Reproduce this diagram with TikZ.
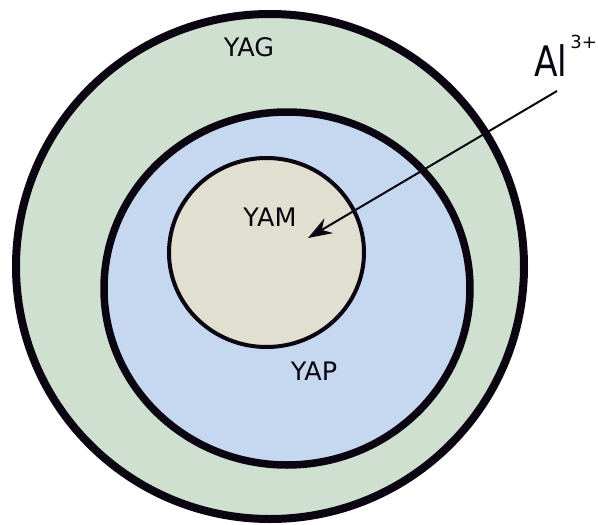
\documentclass[tikz,border=0pt]{standalone}
\usepackage{fontspec}
\setmainfont{DejaVu Sans}
\usetikzlibrary{arrows.meta}
\definecolor{yagfill}{RGB}{208,224,208}
\definecolor{yapfill}{RGB}{198,216,240}
\definecolor{yamfill}{RGB}{224,223,208}
\definecolor{ink}{RGB}{10,5,16}
\tikzset{
  ring/.style={draw=ink},
  lbl/.style={font=\fontsize{25.5}{25.5}\selectfont, text=ink, inner sep=0pt, anchor=base},
}
\begin{document}
\begin{tikzpicture}[x=1pt,y=-1pt]
\useasboundingbox (0,0) rectangle (598,525);
\draw[ring, fill=yagfill, line width=8pt] (270,266.5) ellipse [x radius=254, y radius=252.5];
\draw[ring, fill=yapfill, line width=7.5pt] (287,288.5) ellipse [x radius=183, y radius=176.5];
\draw[ring, fill=yamfill, line width=4pt] (266.5,252.5) ellipse [x radius=97.5, y radius=94.5];
\node[lbl] (yag) at (249,56) {YAG};
\node[lbl] (yam) at (270,226) {YAM};
\node[lbl] (yap) at (314,380) {YAP};
\node[inner sep=0pt, anchor=base west, text=ink] (al) at (534,76)
  {\scalebox{0.82}[1]{\fontsize{42}{42}\selectfont Al}\kern3pt\raisebox{28pt}{\fontsize{18}{18}\selectfont 3+}};
\coordinate (from) at (557,91);
\coordinate (to) at (308,238);
\draw[ink, line width=2pt, -{Stealth[length=24pt, width=17pt, inset=8pt]}] (from) -- (to);
\end{tikzpicture}
\end{document}
